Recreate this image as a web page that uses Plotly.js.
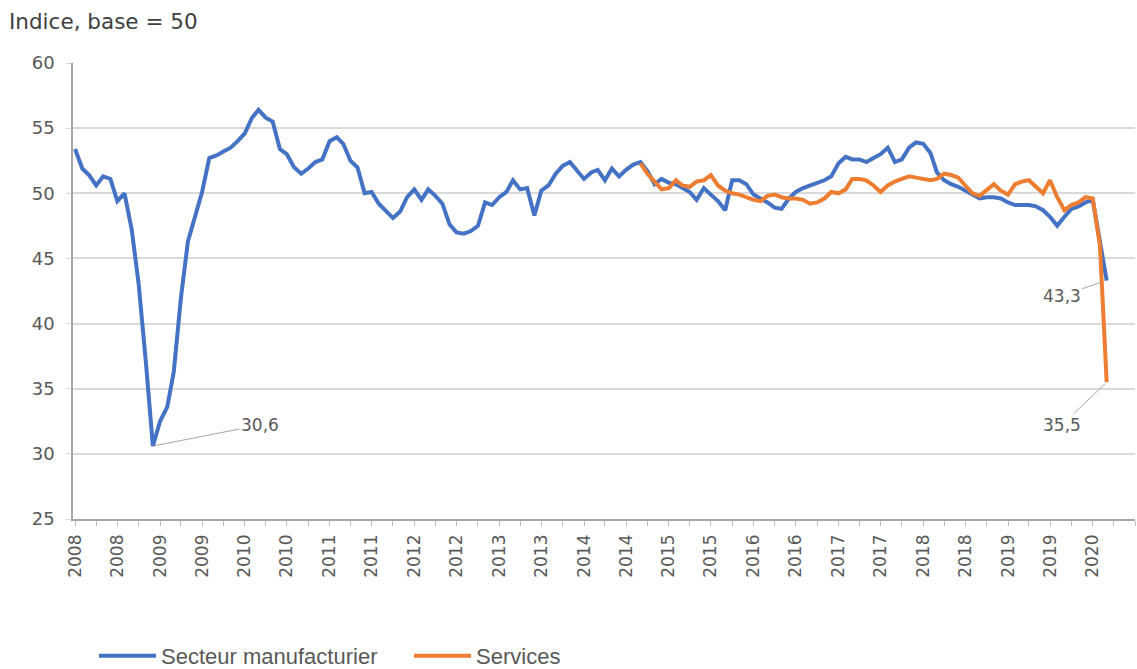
<!DOCTYPE html>
<html>
<head>
<meta charset="utf-8">
<script src="https://cdn.plot.ly/plotly-3.0.1.min.js"></script>
<style>
  html, body { margin: 0; padding: 0; background: #ffffff; }
  #chart { width: 1137px; height: 669px; }
</style>
</head>
<body>
<div id="chart"></div>
<script>
// ---- Data (monthly, Jan 2008 – Mar 2020) ----
const startMonth = "2008-01";
const seriesNames = ["Secteur manufacturier", "Services"];
const manufacturier = [
  53.4,51.9,51.4,50.6,51.3,51.1,49.4,50.0,47.2,43.0,37.0,30.6,
  32.5,33.6,36.3,42.0,46.3,48.2,50.1,52.7,52.9,53.2,53.5,54.0,
  54.6,55.8,56.4,55.8,55.5,53.4,53.0,52.0,51.5,51.9,52.4,52.6,
  54.0,54.3,53.8,52.5,52.0,50.0,50.1,49.2,48.6,48.1,48.6,49.7,
  50.3,49.5,50.3,49.8,49.2,47.6,47.0,46.9,47.1,47.5,49.3,49.1,
  49.7,50.1,51.0,50.3,50.4,48.3,50.2,50.6,51.5,52.1,52.4,51.8,
  51.1,51.6,51.8,51.0,51.9,51.3,51.8,52.2,52.4,51.7,50.7,51.1,
  50.8,50.7,50.4,50.1,49.5,50.4,49.9,49.4,48.7,51.0,51.0,50.7,
  49.9,49.6,49.3,48.9,48.8,49.6,50.1,50.4,50.6,50.8,51.0,51.3,
  52.3,52.8,52.6,52.6,52.4,52.7,53.0,53.5,52.4,52.6,53.5,53.9,
  53.8,53.1,51.6,51.0,50.7,50.5,50.2,49.9,49.6,49.7,49.7,49.6,
  49.3,49.1,49.1,49.1,49.0,48.7,48.2,47.5,48.2,48.8,49.0,49.3,
  49.5,46.5,43.3
];
// Services series starts Sep 2014
const services = [
  52.3,51.5,50.9,50.3,50.4,51.0,50.6,50.5,50.9,51.0,51.4,50.6,
  50.2,50.0,49.9,49.7,49.5,49.4,49.8,49.9,49.7,49.6,49.6,49.5,
  49.2,49.3,49.6,50.1,50.0,50.3,51.1,51.1,51.0,50.6,50.1,50.6,
  50.9,51.1,51.3,51.2,51.1,51.0,51.1,51.5,51.4,51.2,50.6,50.0,
  49.8,50.2,50.7,50.2,49.9,50.7,50.9,51.0,50.5,50.0,51.0,49.7,
  48.7,49.1,49.3,49.7,49.6,46.0,35.5
];

// ---- Build month dates ----
const months = [];
{
  const y0 = parseInt(startMonth.slice(0, 4), 10);
  const m0 = parseInt(startMonth.slice(5, 7), 10) - 1;
  for (let i = 0; i < manufacturier.length; i++) {
    const y = y0 + Math.floor((m0 + i) / 12);
    const m = (m0 + i) % 12 + 1;
    months.push(y + "-" + String(m).padStart(2, "0") + "-01");
  }
}
const servicesX = months.slice(months.length - services.length);

const fmt = v => v.toFixed(1).replace(".", ",");
const minIdx = manufacturier.indexOf(Math.min(...manufacturier));
const lastM = manufacturier.length - 1;
const lastS = services.length - 1;

const textColor = "#595959";
const fontFam = "DejaVu Sans, Verdana, sans-serif";

const traces = [
  {
    x: months, y: manufacturier, name: seriesNames[0], type: "scatter", mode: "lines",
    line: { color: "#4472C4", width: 4, shape: "linear" }, hoverinfo: "x+y"
  },
  {
    x: servicesX, y: services, name: seriesNames[1], type: "scatter", mode: "lines",
    line: { color: "#ED7D31", width: 4, shape: "linear" }, hoverinfo: "x+y"
  }
];

const annFont = { family: fontFam, size: 17, color: textColor };
const layout = {
  width: 1137, height: 669,
  paper_bgcolor: "#ffffff", plot_bgcolor: "#ffffff",
  margin: { l: 73, r: 2, t: 63, b: 150, autoexpand: false },
  title: {
    text: "Indice, base = 50",
    font: { family: fontFam, size: 21.5, color: "#404040" },
    x: 9 / 1137, xanchor: "left", xref: "container",
    y: 1 - 21 / 669, yanchor: "middle", yref: "container"
  },
  showlegend: true,
  legend: {
    orientation: "h", x: 0.0198, xanchor: "left", xref: "paper",
    y: 1 - 656 / 669, yanchor: "middle", yref: "container",
    font: { family: "Liberation Sans, Arial, sans-serif", size: 22, color: textColor },
    entrywidth: 243, entrywidthmode: "pixels", itemwidth: 57
  },
  xaxis: {
    type: "date",
    range: ["2007-12-23", "2020-07-01"],
    tick0: "2008-01-01", dtick: "M6", tickformat: "%Y",
    tickangle: -90,
    tickfont: { family: fontFam, size: 17, color: textColor },
    ticks: "outside", ticklen: 5, tickcolor: "#bfbfbf", tickwidth: 1,
    ticklabelstandoff: 2,
    minor: { dtick: "M3", tick0: "2008-01-01", ticks: "outside", ticklen: 5, tickcolor: "#bfbfbf", showgrid: false },
    showgrid: false, zeroline: false,
    showline: true, linecolor: "#a6a6a6", linewidth: 1.5,
    automargin: false, fixedrange: true
  },
  yaxis: {
    range: [25, 60], dtick: 5, tick0: 25,
    tickfont: { family: fontFam, size: 18, color: textColor },
    ticks: "outside", ticklen: 5, tickcolor: "#d9d9d9",
    ticklabelstandoff: 8,
    gridcolor: "#d9d9d9", gridwidth: 1.5,
    showline: true, linecolor: "#a6a6a6", linewidth: 1.5,
    zeroline: false, automargin: false, fixedrange: true
  },
  annotations: [
    {
      x: months[minIdx], y: manufacturier[minIdx], xref: "x", yref: "y",
      text: fmt(manufacturier[minIdx]), font: annFont,
      showarrow: true, arrowhead: 0, arrowwidth: 1, arrowcolor: "#a6a6a6",
      ax: 107, ay: -21, standoff: 2
    },
    {
      x: months[lastM], y: manufacturier[lastM], xref: "x", yref: "y",
      text: fmt(manufacturier[lastM]), font: annFont,
      showarrow: true, arrowhead: 0, arrowwidth: 1, arrowcolor: "#a6a6a6",
      ax: -45, ay: 15, standoff: 6
    },
    {
      x: servicesX[lastS], y: services[lastS], xref: "x", yref: "y",
      text: fmt(services[lastS]), font: annFont,
      showarrow: true, arrowhead: 0, arrowwidth: 1, arrowcolor: "#a6a6a6",
      ax: -45, ay: 43, standoff: 2
    }
  ]
};

Plotly.newPlot("chart", traces, layout, { displayModeBar: false, responsive: false });
</script>
</body>
</html>
